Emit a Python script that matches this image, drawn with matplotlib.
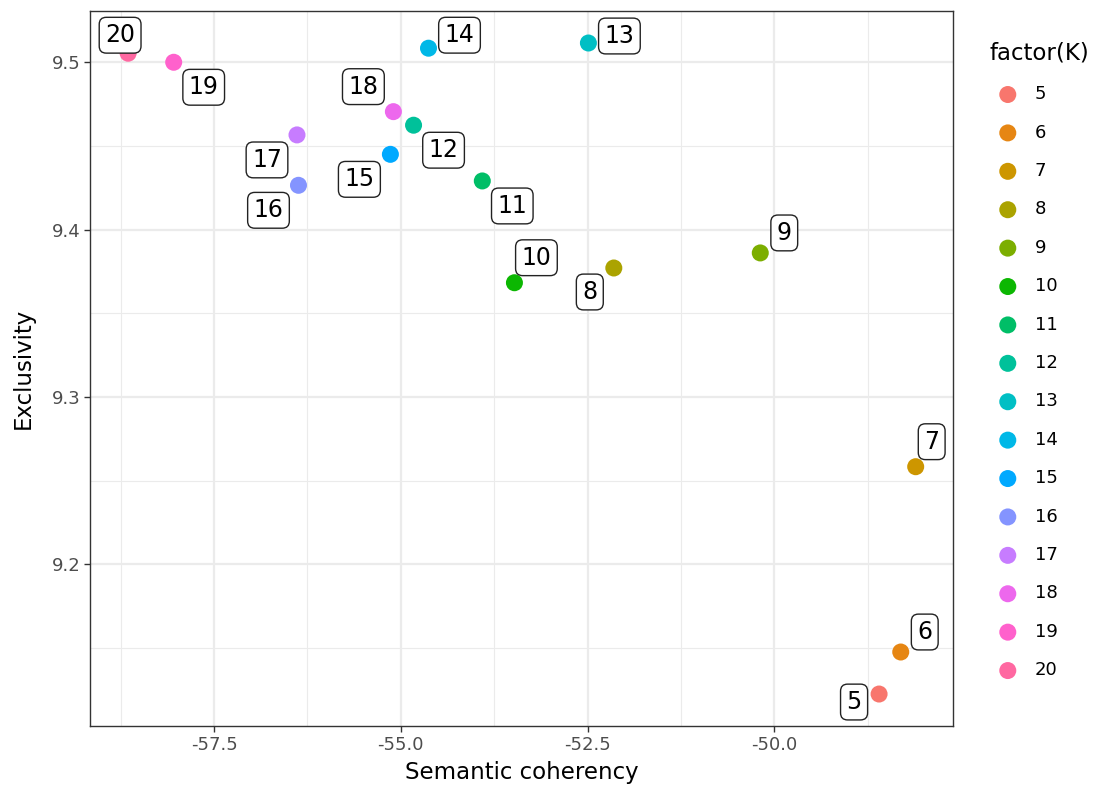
import matplotlib.pyplot as plt

# number of topics K with the two diagnostics for each model
K = [5, 6, 7, 8, 9, 10, 11, 12, 13, 14, 15, 16, 17, 18, 19, 20]
semcoh = [-48.60, -48.31, -48.11, -52.15, -50.19, -53.48, -53.91, -54.83,
          -52.49, -54.63, -55.14, -56.37, -56.39, -55.10, -58.04, -58.65]
exclus = [9.1226, 9.1477, 9.2584, 9.3771, 9.3861, 9.3683, 9.4291, 9.4624,
          9.5115, 9.5084, 9.4450, 9.4265, 9.4566, 9.4705, 9.5000, 9.5054]

# ggplot hue palette for 16 levels
colors = ["#F8766D", "#E68613", "#CD9600", "#ABA300", "#7CAE00", "#0CB702",
          "#00BE67", "#00C19A", "#00BFC4", "#00B8E7", "#00A9FF", "#8494FF",
          "#C77CFF", "#ED68ED", "#FF61CC", "#FF68A1"]

# where each label box sits relative to its point (pixels), repel-style
label_offsets = [(-25, -8), (24, 20), (16, 25), (-24, -24), (24, 20), (22, 25),
                 (30, -25), (30, -25), (31, 7), (31, 13), (-31, -25), (-30, -25),
                 (-30, -25), (-30, 25), (30, -25), (-8, 18)]

fig = plt.figure(figsize=(10.99, 7.87), dpi=100)
ax = fig.add_axes([0.0819, 0.0775, 0.7853, 0.9089])

for k, x, y, c in zip(K, semcoh, exclus, colors):
    ax.scatter(x, y, s=150, color=c, edgecolors="none", zorder=3, label=str(k))

for k, x, y, off in zip(K, semcoh, exclus, label_offsets):
    ax.annotate(str(k), (x, y), xytext=off, textcoords="offset pixels",
                ha="center", va="center", fontsize=17, color="black", zorder=4,
                bbox=dict(boxstyle="round,pad=0.25,rounding_size=0.3",
                          fc="white", ec="#222222", lw=1.0))

ax.set_xlim(-59.16, -47.61)
ax.set_ylim(9.1035, 9.5308)
ax.set_xticks([-57.5, -55.0, -52.5, -50.0])
ax.set_xticklabels(["-57.5", "-55.0", "-52.5", "-50.0"])
ax.set_yticks([9.2, 9.3, 9.4, 9.5])
ax.set_yticklabels(["9.2", "9.3", "9.4", "9.5"])
ax.set_xticks([-58.75, -56.25, -53.75, -51.25, -48.75], minor=True)
ax.set_yticks([9.15, 9.25, 9.35, 9.45], minor=True)

ax.grid(True, which="major", color="#EBEBEB", lw=1.6, zorder=0)
ax.grid(True, which="minor", color="#EBEBEB", lw=0.8, zorder=0)
ax.set_axisbelow(True)
ax.tick_params(which="major", length=4, width=1, color="#333333",
               labelsize=13, labelcolor="#4D4D4D", pad=3)
ax.tick_params(which="minor", length=0)
for sp in ax.spines.values():
    sp.set_color("#333333")
    sp.set_linewidth(1.0)

ax.set_xlabel("Semantic coherency", fontsize=16.5, labelpad=5)
ax.set_ylabel("Exclusivity", fontsize=16.5, labelpad=12)

leg = ax.legend(title="factor(K)", loc="upper left", bbox_to_anchor=(0.894, 0.956),
                bbox_transform=fig.transFigure, frameon=False, fontsize=13,
                title_fontsize=16.5, labelspacing=1.13, handletextpad=0.5,
                borderaxespad=0, markerscale=1.0)
leg._legend_box.align = "left"

fig.savefig("out.png", dpi=100)
